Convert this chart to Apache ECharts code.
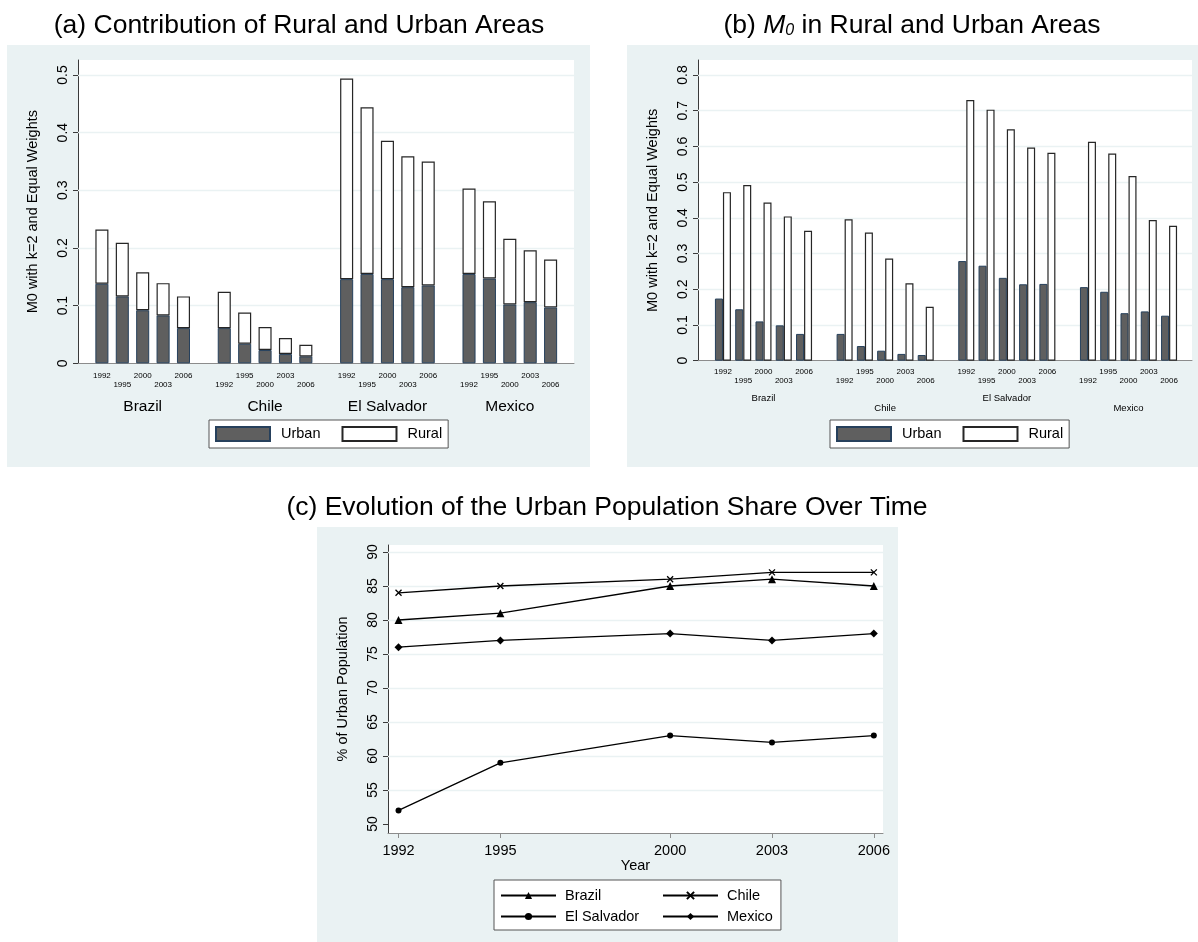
<!DOCTYPE html>
<html><head><meta charset="utf-8">
<script src="https://cdn.jsdelivr.net/npm/echarts@6/dist/echarts.min.js"></script>
<style>html,body{margin:0;padding:0;background:#fff}#c{width:1198px;height:942px}</style>
</head><body><div id="c"></div><script>
// ---------- data ----------
const countries = ['Brazil', 'Chile', 'El Salvador', 'Mexico'];
const years = ['1992', '1995', '2000', '2003', '2006'];
const yearNums = [1992, 1995, 2000, 2003, 2006];

// (a) contribution of urban / rural areas to M0 (country-major, 5 years each)
const contribUrban = [0.138, 0.116, 0.092, 0.083, 0.061, 0.061, 0.034, 0.023, 0.016, 0.012, 0.146, 0.155, 0.146, 0.132, 0.135, 0.155, 0.147, 0.102, 0.106, 0.097];
const contribRural = [0.094, 0.093, 0.066, 0.056, 0.055, 0.063, 0.054, 0.040, 0.028, 0.020, 0.348, 0.289, 0.240, 0.227, 0.215, 0.148, 0.134, 0.114, 0.090, 0.083];

// (b) M0 within urban / rural areas
const m0Urban = [0.174, 0.144, 0.110, 0.099, 0.075, 0.075, 0.041, 0.028, 0.019, 0.016, 0.279, 0.266, 0.232, 0.214, 0.215, 0.206, 0.193, 0.133, 0.138, 0.126];
const m0Rural = [0.472, 0.492, 0.443, 0.404, 0.364, 0.396, 0.359, 0.286, 0.217, 0.151, 0.730, 0.703, 0.648, 0.597, 0.582, 0.613, 0.580, 0.517, 0.394, 0.378];

// (c) urban population share (%)
const shareBrazil = [80, 81, 85, 86, 85];
const shareChile = [84, 85, 86, 87, 87];
const shareElSalvador = [52, 59, 63, 62, 63];
const shareMexico = [76, 77, 78, 77, 78];

// tick labels
const ticksA = [0, 0.1, 0.2, 0.3, 0.4, 0.5];
const ticksB = [0, 0.1, 0.2, 0.3, 0.4, 0.5, 0.6, 0.7, 0.8];
const ticksC = [50, 55, 60, 65, 70, 75, 80, 85, 90];

// ---------- helpers ----------
const FONT = "'Liberation Sans', Arial, Helvetica, sans-serif";
const BG = '#EAF2F3';
const AX = '#3a3a3a';
const TITLE_FS = 26.5;
const slots = [];
countries.forEach((c, ci) => {
  if (ci > 0) slots.push(null);
  years.forEach((y, yi) => slots.push({ c, ci, y, yi, k: ci * 5 + yi }));
});
const slotCats = slots.map((s, i) => s ? s.c + ' ' + s.y : '_' + i);
const fill = arr => slots.map(s => s ? arr[s.k] : '-');
const yearFmt = (v, i) => { const s = slots[i]; if (!s) return ''; return s.k % 2 === 0 ? s.y : '\n' + s.y; };

function baseX(gi) {
  return { gridIndex: gi, type: 'value', min: 0, max: 1, position: 'bottom',
    axisLine: { show: true, lineStyle: { color: '#8c8c8c', width: 1 } },
    axisTick: { show: false }, axisLabel: { show: false }, splitLine: { show: false } };
}
function catX(gi, fmt, fs, lh, margin) {
  return { gridIndex: gi, type: 'category', data: slotCats, position: 'bottom',
    axisLine: { show: false }, axisTick: { show: false }, splitLine: { show: false },
    axisLabel: { interval: 0, formatter: fmt, fontSize: fs, lineHeight: lh, margin: margin, color: '#000', fontFamily: FONT } };
}
function valY(gi, min, max, ticks, name, nameGap) {
  return { gridIndex: gi, type: 'value', min: min, max: max,
    axisLine: { show: true, lineStyle: { color: AX, width: 1 } },
    axisTick: { show: true, customValues: ticks, length: 5, lineStyle: { color: AX } },
    axisLabel: { customValues: ticks, rotate: 90, fontSize: 14, margin: 8, color: '#000', fontFamily: FONT,
      formatter: v => String(v) },
    splitLine: { show: false },
    name: name, nameLocation: 'middle', nameGap: nameGap,
    nameTextStyle: { fontSize: 14.5, color: '#000', fontFamily: FONT } };
}
function hidY(gi, min, max) {
  return { gridIndex: gi, type: 'value', min: min, max: max, show: false, splitLine: { show: false } };
}
function gridLines(xi, yi, ticks) {
  return { type: 'line', xAxisIndex: xi, yAxisIndex: yi, data: [], silent: true,
    markLine: { silent: true, symbol: 'none', z: 1, animation: false, label: { show: false },
      lineStyle: { color: BG, width: 1.3, type: 'solid' },
      data: ticks.filter(v => v !== ticks[0]).map(v => ({ yAxis: v })) } };
}
const urbanStyle = { color: '#5f5f5f', borderColor: '#26405c', borderWidth: 1 };
const ruralStyle = { color: '#ffffff', borderColor: '#262626', borderWidth: 1.2 };

function barLegend(left) {
  return { left: left, top: 420, data: ['Urban', 'Rural'], icon: 'rect', itemWidth: 54, itemHeight: 14,
    itemGap: 21, padding: [6, 6, 6, 6], backgroundColor: '#fff', borderColor: '#555', borderWidth: 1,
    selectedMode: false,
    textStyle: { fontSize: 14.5, color: '#000', fontFamily: FONT, lineHeight: 14, padding: [0, 0, 0, 6] } };
}

const lineCommon = { type: 'line', xAxisIndex: 6, yAxisIndex: 4, z: 3,
  lineStyle: { color: '#000', width: 1.3 }, animation: false };
const pairs = arr => yearNums.map((y, i) => [y, arr[i]]);

const option = {
  animation: false,
  textStyle: { fontFamily: FONT },
  graphic: { elements: [
    { type: 'rect', z: -100, silent: true, shape: { x: 7, y: 45, width: 583, height: 422 }, style: { fill: BG } },
    { type: 'rect', z: -100, silent: true, shape: { x: 627, y: 45, width: 571, height: 422 }, style: { fill: BG } },
    { type: 'rect', z: -100, silent: true, shape: { x: 317, y: 527, width: 581, height: 415 }, style: { fill: BG } }
  ] },
  title: [
    { text: '(a) Contribution of Rural and Urban Areas', left: 299, top: 12, textAlign: 'center', padding: 0,
      textStyle: { fontSize: TITLE_FS, fontWeight: 'normal', color: '#000', fontFamily: FONT } },
    { text: '(b) {i|M}{s|0} in Rural and Urban Areas', left: 912, top: 12, textAlign: 'center', padding: 0,
      textStyle: { fontSize: TITLE_FS, fontWeight: 'normal', color: '#000', fontFamily: FONT,
        rich: { i: { fontSize: TITLE_FS, fontStyle: 'italic', color: '#000', fontFamily: FONT },
                s: { fontSize: 16, fontStyle: 'italic', color: '#000', fontFamily: FONT, padding: [11, 0, 0, 0] } } } },
    { text: '(c) Evolution of the Urban Population Share Over Time', left: 607, top: 494, textAlign: 'center', padding: 0,
      textStyle: { fontSize: TITLE_FS, fontWeight: 'normal', color: '#000', fontFamily: FONT } }
  ],
  grid: [
    { left: 78, top: 60, width: 496, height: 303.3, show: true, backgroundColor: '#fff', borderWidth: 0 },
    { left: 91.7, top: 60, width: 469.1, height: 303.3 },
    { left: 698, top: 60, width: 494, height: 300.7, show: true, backgroundColor: '#fff', borderWidth: 0 },
    { left: 712.8, top: 60, width: 466.4, height: 300.7 },
    { left: 388, top: 545, width: 495, height: 288, show: true, backgroundColor: '#fff', borderWidth: 0 }
  ],
  xAxis: [
    baseX(0),
    catX(1, yearFmt, 8, 9, 8),
    catX(1, (v, i) => { const s = slots[i]; return s && s.yi === 2 ? s.c : ''; }, 15.5, 16, 35),
    baseX(2),
    catX(3, yearFmt, 8, 9, 7),
    catX(3, (v, i) => { const s = slots[i]; if (!s || s.yi !== 2) return ''; return s.ci % 2 === 0 ? s.c : '\n' + s.c; }, 9.5, 10, 32.6),
    { gridIndex: 4, type: 'value', min: 1991.69, max: 2006.27, position: 'bottom',
      axisLine: { show: true, lineStyle: { color: '#8c8c8c', width: 1 } },
      axisTick: { show: true, customValues: yearNums, length: 5, lineStyle: { color: '#8c8c8c' } },
      axisLabel: { customValues: yearNums, fontSize: 14.5, margin: 10, color: '#000', fontFamily: FONT,
        formatter: v => String(Math.round(v)) },
      splitLine: { show: false },
      name: 'Year', nameLocation: 'middle', nameGap: 24,
      nameTextStyle: { fontSize: 14.5, color: '#000', fontFamily: FONT } }
  ],
  yAxis: [
    valY(0, 0, 0.526, ticksA, 'M0 with k=2 and Equal Weights', 38),
    hidY(1, 0, 0.526),
    valY(2, 0, 0.842, ticksB, 'M0 with k=2 and Equal Weights', 38),
    hidY(3, 0, 0.842),
    valY(4, 48.68, 91.03, ticksC, '% of Urban Population', 38)
  ],
  legend: [
    barLegend(209),
    barLegend(830),
    { left: 494, top: 880, width: 280, itemWidth: 55, itemHeight: 9, itemGap: 6, padding: [8, 8, 6, 6],
      backgroundColor: '#fff', borderColor: '#555', borderWidth: 1, selectedMode: false,
      textStyle: { fontSize: 14.5, color: '#000', fontFamily: FONT, lineHeight: 14, padding: [0, 0, 0, 4] },
      data: [
        { name: 'Brazil', textStyle: { width: 91 } },
        { name: 'Chile' },
        { name: 'El Salvador', textStyle: { width: 91 } },
        { name: 'Mexico' }
      ] }
  ],
  series: [
    gridLines(0, 0, ticksA),
    { type: 'bar', name: 'Urban', xAxisIndex: 1, yAxisIndex: 1, stack: 'contrib', data: fill(contribUrban),
      barWidth: '64%', itemStyle: urbanStyle },
    { type: 'bar', name: 'Rural', xAxisIndex: 1, yAxisIndex: 1, stack: 'contrib', data: fill(contribRural),
      barWidth: '64%', itemStyle: ruralStyle },
    gridLines(3, 2, ticksB),
    { type: 'bar', name: 'Urban', xAxisIndex: 4, yAxisIndex: 3, data: fill(m0Urban),
      barGap: '0%', barCategoryGap: '21%', itemStyle: urbanStyle },
    { type: 'bar', name: 'Rural', xAxisIndex: 4, yAxisIndex: 3, data: fill(m0Rural),
      barGap: '0%', barCategoryGap: '21%', itemStyle: ruralStyle },
    gridLines(6, 4, ticksC),
    Object.assign({}, lineCommon, { name: 'Brazil', data: pairs(shareBrazil), symbol: 'triangle', symbolSize: 8,
      itemStyle: { color: '#000' } }),
    Object.assign({}, lineCommon, { name: 'Chile', data: pairs(shareChile), symbol: 'path://M0,0L10,10M10,0L0,10', symbolSize: 6,
      itemStyle: { color: '#000', borderColor: '#000', borderWidth: 1.3 } }),
    Object.assign({}, lineCommon, { name: 'El Salvador', data: pairs(shareElSalvador), symbol: 'circle', symbolSize: 6,
      itemStyle: { color: '#000' } }),
    Object.assign({}, lineCommon, { name: 'Mexico', data: pairs(shareMexico), symbol: 'diamond', symbolSize: 8,
      itemStyle: { color: '#000' } })
  ]
};
const chart = echarts.init(document.getElementById('c'), null, { renderer: 'canvas' });
chart.setOption(option);
</script></body></html>
